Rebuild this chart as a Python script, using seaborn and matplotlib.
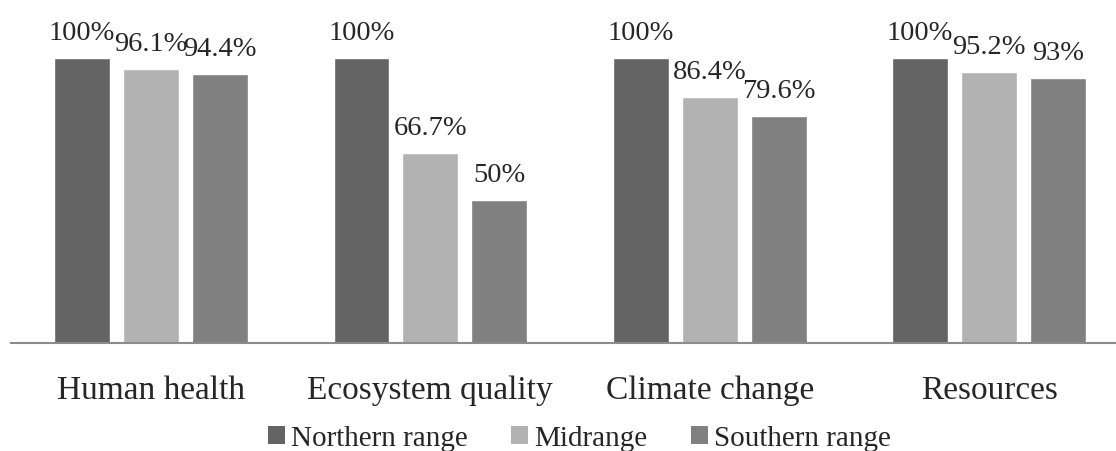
import matplotlib
matplotlib.use("Agg")
import matplotlib.pyplot as plt
import seaborn as sns
import pandas as pd
from matplotlib.patches import Patch

categories = ["Human health", "Ecosystem quality", "Climate change", "Resources"]
series = ["Northern range", "Midrange", "Southern range"]
northern = [100, 100, 100, 100]
midrange = [96.1, 66.7, 86.4, 95.2]
southern = [94.4, 50, 79.6, 93]
labels = {
    "Northern range": ["100%", "100%", "100%", "100%"],
    "Midrange": ["96.1%", "66.7%", "86.4%", "95.2%"],
    "Southern range": ["94.4%", "50%", "79.6%", "93%"],
}
colors = ["#646464", "#b2b2b2", "#808080"]

df = pd.DataFrame({
    "category": categories * 3,
    "series": [s for s in series for _ in categories],
    "value": northern + midrange + southern,
})

sns.set_style("white")
plt.rcParams["font.family"] = ["Liberation Serif", "DejaVu Serif"]

fig = plt.figure(figsize=(11.16, 4.52), dpi=100)
ax = fig.add_axes([0.0101, 0.240, 1.0014, 0.6288])

sns.barplot(data=df, x="category", y="value", hue="series", order=categories,
            hue_order=series, palette=colors, width=0.74, gap=0.19,
            saturation=1, ax=ax, legend=False)

for cont, s in zip(ax.containers, series):
    ax.bar_label(cont, labels=labels[s], padding=9.5, fontsize=20.5, clip_on=False)

ax.set_ylim(0, 100)
ax.set_xlim(-0.5, 3.5)
ax.set_xlabel("")
ax.set_ylabel("")
ax.set_yticks([])
for side in ["top", "right", "left"]:
    ax.spines[side].set_visible(False)
ax.spines["bottom"].set_color("#8c8c8c")
ax.spines["bottom"].set_linewidth(1.5)
ax.tick_params(axis="x", length=0, pad=23, labelsize=24)

handles = [Patch(facecolor=c, edgecolor="none") for c in colors]
fig.legend(handles, series, loc="center", bbox_to_anchor=(0.519, 0.029), ncol=3,
           frameon=False, fontsize=21, handlelength=0.58, handleheight=0.58,
           handletextpad=0.2, columnspacing=1.5, borderpad=0, borderaxespad=0)

fig.savefig("out.png", dpi=100)
